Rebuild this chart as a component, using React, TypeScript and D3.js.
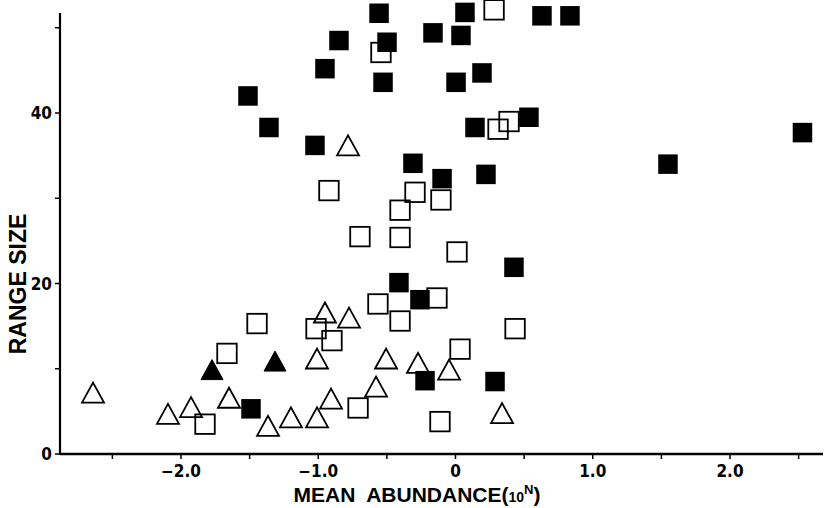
import React from 'react';
import * as d3 from 'd3';

// mean abundance (log10) and range size
const filledSquares: [number, number][] = [
  [-0.557, 51.7], [-0.849, 48.5], [-0.499, 48.3], [-0.951, 45.2], [-0.528, 43.6],
  [-1.512, 42.0], [-1.359, 38.3], [-1.024, 36.2], [0.069, 51.8], [0.630, 51.4],
  [0.834, 51.4], [-0.164, 49.4], [0.040, 49.1], [0.193, 44.7], [0.004, 43.6],
  [0.142, 38.3], [0.535, 39.5], [2.528, 37.7], [1.548, 34.0], [-0.310, 34.1],
  [-0.098, 32.3], [0.222, 32.8], [0.426, 21.9], [-0.412, 20.1], [-0.259, 18.1],
  [-1.490, 5.3], [-0.222, 8.6], [0.288, 8.5],
];

const openSquares: [number, number][] = [
  [0.281, 52.1], [-0.543, 47.1], [0.310, 38.1], [0.390, 39.0], [-0.922, 30.9],
  [-0.295, 30.7], [-0.106, 29.8], [-0.404, 28.6], [-0.696, 25.5], [-0.404, 25.4],
  [0.011, 23.7], [-0.565, 17.6], [-0.135, 18.3], [-0.404, 15.6], [0.434, 14.7],
  [-1.446, 15.3], [-1.016, 14.7], [-0.900, 13.3], [0.033, 12.3], [-1.665, 11.8],
  [-0.710, 5.4], [-0.113, 3.8], [-1.825, 3.5],
];

const openTriangles: [number, number][] = [
  [-0.783, 36.2], [-0.951, 16.6], [-0.776, 16.0], [-1.009, 11.2], [-0.506, 11.2],
  [-0.273, 10.7], [-0.047, 9.9], [-0.579, 7.9], [-0.907, 6.5], [-1.009, 4.3],
  [-1.199, 4.3], [-1.366, 3.3], [-1.650, 6.6], [-1.927, 5.5], [-2.095, 4.7],
  [0.339, 4.8], [-2.641, 7.2],
];

const filledTriangles: [number, number][] = [
  [-1.774, 9.9], [-1.315, 10.9],
];

const xMajorTicks = [-2, -1, 0, 1, 2];
const xMinorTicks = [-2.5, -1.5, -0.5, 0.5, 1.5, 2.5];
const yMajorTicks = [0, 20, 40];
const yMinorTicks = [10, 30, 50];

const W = 825;
const H = 508;
const tickFont = "'DejaVu Sans Condensed', 'DejaVu Sans', sans-serif";
const titleFont = "'Liberation Sans', Arial, sans-serif";

const fmtX = (d: number) => (d === 0 ? '0' : (d < 0 ? '\u2212' : '') + Math.abs(d).toFixed(1));

export default function App() {
  const x = d3.scaleLinear().domain([-2, 2]).range([181, 730]);
  const y = d3.scaleLinear().domain([0, 40]).range([454, 113]);

  const xLeft = 60;
  const xRight = 823;
  const yTop = 13;
  const sq = 19.5;
  const triW = 22;
  const triH = 20;

  const tri = (cx: number, cy: number) =>
    `M${cx - triW / 2},${cy + triH / 2}L${cx},${cy - triH / 2}L${cx + triW / 2},${cy + triH / 2}Z`;

  return (
    <svg
      width={W}
      height={H}
      style={{ position: 'absolute', left: 0, top: 0, background: '#fff' }}
    >
      {/* axes */}
      <line x1={xLeft} x2={xRight} y1={y(0)} y2={y(0)} stroke="#000" strokeWidth={2.5} />
      <line x1={xLeft} x2={xLeft} y1={y(0) + 1} y2={yTop} stroke="#000" strokeWidth={2.2} />

      {xMajorTicks.concat(xMinorTicks).map((t) => (
        <line key={'xt' + t} x1={x(t)} x2={x(t)} y1={y(0)} y2={y(0) + 5} stroke="#000" strokeWidth={1.5} />
      ))}
      {xMajorTicks.map((t) => (
        <text
          key={'xl' + t}
          x={x(t)}
          y={477}
          textAnchor="middle"
          fontFamily={tickFont}
          fontWeight="bold"
          fontSize={17}
        >
          {fmtX(t)}
        </text>
      ))}

      {yMajorTicks.concat(yMinorTicks).map((t) => (
        <line key={'yt' + t} x1={xLeft - 5} x2={xLeft} y1={y(t)} y2={y(t)} stroke="#000" strokeWidth={1.5} />
      ))}
      {yMajorTicks.map((t) => (
        <text
          key={'yl' + t}
          x={xLeft - 8}
          y={y(t) + 6}
          textAnchor="end"
          fontFamily={tickFont}
          fontWeight="bold"
          fontSize={17}
        >
          {t}
        </text>
      ))}

      {/* axis titles */}
      <text
        transform={`translate(26,${284}) rotate(-90)`}
        textAnchor="middle"
        fontFamily={titleFont}
        fontWeight="bold"
        fontSize={23}
      >
        RANGE SIZE
      </text>
      <text
        x={417}
        y={502}
        textAnchor="middle"
        fontFamily={titleFont}
        fontWeight="bold"
        fontSize={21}
        style={{ whiteSpace: 'pre' }}
      >
        {'MEAN  ABUNDANCE('}
        <tspan fontSize={14}>10</tspan>
        <tspan fontSize={13} dy={-8}>N</tspan>
        <tspan dy={8}>)</tspan>
      </text>

      {/* open markers first, filled ones drawn on top */}
      {openSquares.map(([a, b], i) => (
        <rect
          key={'os' + i}
          x={x(a) - sq / 2}
          y={y(b) - sq / 2}
          width={sq}
          height={sq}
          fill="none"
          stroke="#000"
          strokeWidth={1.8}
        />
      ))}
      {openTriangles.map(([a, b], i) => (
        <path key={'ot' + i} d={tri(x(a), y(b))} fill="none" stroke="#000" strokeWidth={1.8} />
      ))}
      {filledSquares.map(([a, b], i) => (
        <rect
          key={'fs' + i}
          x={x(a) - sq / 2}
          y={y(b) - sq / 2}
          width={sq}
          height={sq}
          fill="#000"
        />
      ))}
      {filledTriangles.map(([a, b], i) => (
        <path key={'ft' + i} d={tri(x(a), y(b))} fill="#000" stroke="#000" strokeWidth={1} />
      ))}
    </svg>
  );
}
